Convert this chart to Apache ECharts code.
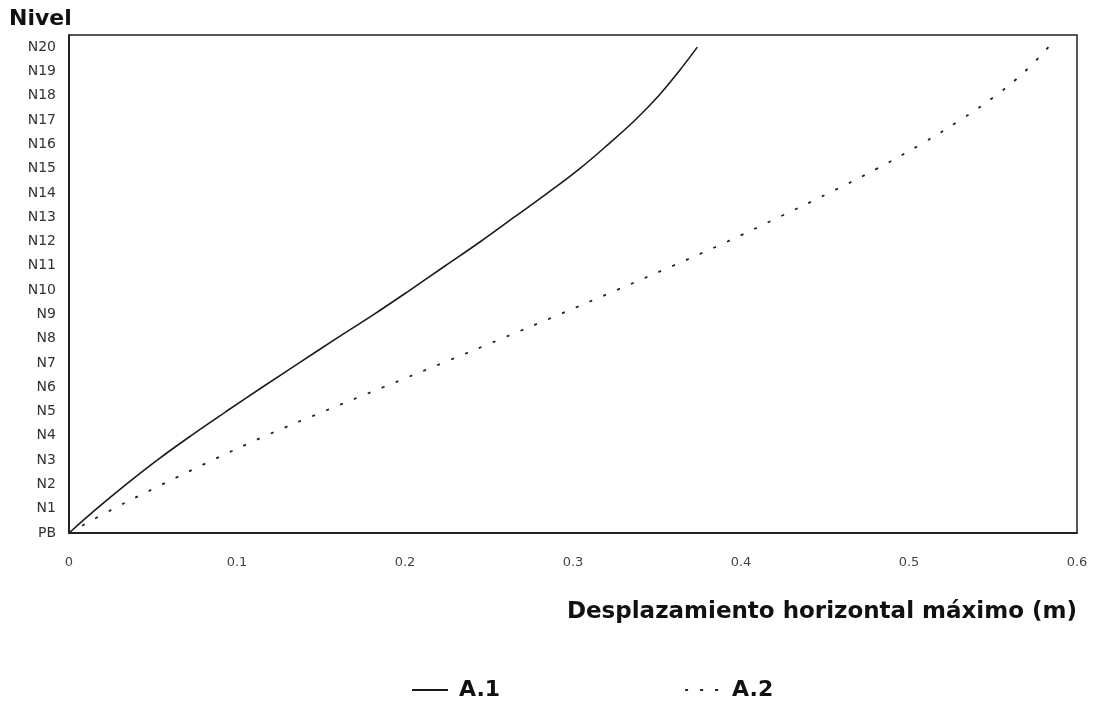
<!DOCTYPE html>
<html>
<head>
<meta charset="utf-8">
<script src="https://cdn.jsdelivr.net/npm/echarts@6/dist/echarts.min.js"></script>
<style>html,body{margin:0;padding:0;background:#fff;}#c{width:1096px;height:703px;}</style>
</head>
<body>
<div id="c"></div>
<script>
const levels = ['PB','N1','N2','N3','N4','N5','N6','N7','N8','N9','N10','N11','N12','N13','N14','N15','N16','N17','N18','N19','N20'];
const xTicks = ['0','0.1','0.2','0.3','0.4','0.5','0.6'];
const a1 = [0, 0.0165, 0.034, 0.0525, 0.0725, 0.0935, 0.115, 0.137, 0.159, 0.1815, 0.203, 0.224, 0.245, 0.265, 0.285, 0.304, 0.321, 0.337, 0.351, 0.363, 0.374];
const a2 = [0, 0.0265, 0.0555, 0.0855, 0.117, 0.1515, 0.187, 0.2225, 0.2575, 0.292, 0.326, 0.3595, 0.392, 0.4225, 0.4525, 0.481, 0.507, 0.5305, 0.5515, 0.569, 0.583];
const seriesNames = ['A.1', 'A.2'];

const pairs = arr => arr.map((v, i) => [v, i]);
const font = '"DejaVu Sans", "Liberation Sans", sans-serif';

const chart = echarts.init(document.getElementById('c'), null, {renderer: 'canvas'});
chart.setOption({
  backgroundColor: '#ffffff',
  animation: false,
  grid: {left: 69, right: 19, top: 35, bottom: 170, show: true, borderColor: '#222', borderWidth: 1.5},
  xAxis: {
    type: 'value', min: 0, max: 0.6, interval: 0.1,
    name: 'Desplazamiento horizontal máximo (m)',
    nameLocation: 'end', nameGap: 0,
    nameTextStyle: {fontFamily: font, fontWeight: 'bold', fontSize: 23, color: '#111', align: 'right', verticalAlign: 'top', padding: [68, 0, 0, 0]},
    axisLine: {show: true, lineStyle: {color: '#111', width: 1.5}},
    axisTick: {show: false},
    splitLine: {show: false},
    axisLabel: {fontFamily: font, fontSize: 13, color: '#444', margin: 23,
      formatter: v => xTicks[Math.round(v * 10)]}
  },
  yAxis: {
    type: 'value', min: 0, max: 20.5, interval: 1,
    name: 'Nivel', nameLocation: 'end', nameGap: 5,
    nameTextStyle: {fontFamily: font, fontWeight: 'bold', fontSize: 22, color: '#111', align: 'left', padding: [0, 0, 0, -60]},
    axisLine: {show: true, lineStyle: {color: '#111', width: 1.5}},
    axisTick: {show: false},
    splitLine: {show: false},
    axisLabel: {fontFamily: font, fontSize: 14, color: '#333', margin: 13, showMaxLabel: false,
      formatter: v => Number.isInteger(v) ? levels[v] : ''}
  },
  legend: {
    left: 406, top: 674, itemGap: 184, itemWidth: 36, itemHeight: 14,
    itemStyle: {opacity: 0},
    textStyle: {fontFamily: font, fontWeight: 'bold', fontSize: 22, color: '#111', padding: [0, 0, 0, 6]},
    data: seriesNames
  },
  series: [
    {name: seriesNames[0], type: 'line', data: pairs(a1), symbol: 'none', smooth: 0.4,
     lineStyle: {color: '#1a1a1a', width: 1.6}, itemStyle: {color: '#1a1a1a'}},
    {name: seriesNames[1], type: 'line', data: pairs(a2), symbol: 'none', smooth: 0.4,
     lineStyle: {color: '#222', width: 1.8, type: [3, 12]}, itemStyle: {color: '#222'}}
  ]
});
</script>
</body>
</html>
